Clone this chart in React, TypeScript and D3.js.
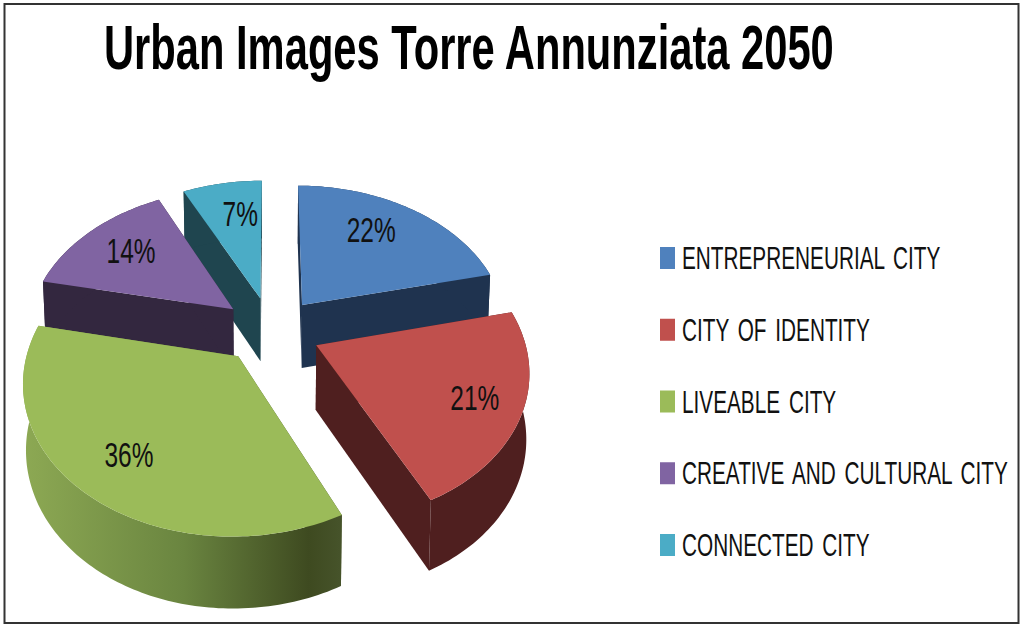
import React from "react"
import * as d3 from "d3"

const categories = ["ENTREPRENEURIAL CITY", "CITY OF IDENTITY", "LIVEABLE CITY", "CREATIVE AND CULTURAL CITY", "CONNECTED CITY"]
const shares = [22, 21, 36, 14, 7]
const topColors = ["#4f81bd", "#c0504d", "#9bbb59", "#8064a2", "#4bacc6"]
const sideColors = ["#1f334f", "#4f1f1f", "url(#greenSide)", "#33273f", "#1f454f"]
const title = "Urban Images Torre Annunziata 2050"

// label placement inside each slice: turn from the bisector (deg), fraction of radius
const labelTurn = [-5.5, 0, 0, 2, 3.5]
const labelReach = [0.72, 0.78, 0.74, 0.72, 0.71]

const width = 1024
const height = 628
const cx = 271
const cy = 330
const radius = 217
const xSquash = 0.95
const explode = 50
const depth = 64
const tilt = 0.665
const persp = 0.000694
const angleWarp = (2.5 * Math.PI) / 180

type Pt = [number, number]

// plane coords (u right, v away from the viewer) -> screen, h is how far below the top face
function project(u: number, v: number, h = 0): Pt {
  const w = 1 + persp * v
  const shrink = h > 0 ? 0.988 : 1
  return [cx + (u / w) * shrink, cy - (tilt * v) / w + h / Math.pow(w, 0.6)]
}

const line = d3.line<Pt>()
const drawOrder = [4, 3, 0, 1, 2]
const font = "'Liberation Sans Narrow','Liberation Sans',sans-serif"

export default function App() {
  const arcs = d3.pie<number>().sort(null)(shares)
  const slices = arcs.map((a, i) => {
    const mid = (a.startAngle + a.endAngle) / 2
    const ox = explode * Math.sin(mid)
    const oy = explode * Math.cos(mid)
    const at = (t: number, r: number, h = 0) => {
      const t2 = t - angleWarp * Math.abs(Math.sin(t))
      return project(ox + xSquash * r * Math.sin(t2), oy + r * Math.cos(t2), h)
    }
    const angles = d3.range(a.startAngle, a.endAngle, 0.02).concat(a.endAngle)
    const rim = angles.map((t) => at(t, radius))
    const rimLow = angles.map((t) => at(t, radius, depth))
    const apex = at(0, 0)
    const apexLow = at(0, 0, depth)
    return {
      i,
      top: line([apex, ...rim])! + "Z",
      startWall: line([apex, rim[0], rimLow[0], apexLow])! + "Z",
      endWall: line([apex, rim[rim.length - 1], rimLow[rimLow.length - 1], apexLow])! + "Z",
      outer: line([...rim, ...rimLow.slice().reverse()])! + "Z",
      label: at(mid + (labelTurn[i] * Math.PI) / 180, radius * labelReach[i]),
    }
  })

  const legendY = d3.scalePoint<string>().domain(categories).range([258, 545])

  return (
    <svg width={width} height={height} style={{ position: "absolute", left: 0, top: 0, background: "#fff" }}>
      <defs>
        <linearGradient id="greenSide" gradientUnits="userSpaceOnUse" x1={27} x2={340} y1={0} y2={0}>
          <stop offset="0" stopColor="#8ca853" />
          <stop offset="0.5" stopColor="#6a8540" />
          <stop offset="0.9" stopColor="#3e4a20" />
          <stop offset="1" stopColor="#46532a" />
        </linearGradient>
      </defs>
      <rect x={4.5} y={4} width={1014} height={619} fill="#fff" stroke="#333" strokeWidth={2} />

      <text
        transform="translate(104,69) scale(0.662,1)"
        fontFamily={font}
        fontWeight="bold"
        fontSize={63}
        fill="#000"
      >
        {title}
      </text>

      {drawOrder.map((k) => {
        const s = slices[k]
        return (
          <g key={k}>
            <path d={s.startWall} fill={sideColors[k]} />
            <path d={s.endWall} fill={sideColors[k]} />
            <path d={s.outer} fill={sideColors[k]} />
            <path d={s.top} fill={topColors[k]} />
          </g>
        )
      })}

      {slices.map((s) => (
        <text
          key={s.i}
          transform={`translate(${s.label[0]},${s.label[1] + 13}) scale(0.7,1)`}
          textAnchor="middle"
          fontFamily={font}
          fontSize={35}
          fill="#111"
        >
          {shares[s.i]}%
        </text>
      ))}

      {categories.map((c, i) => {
        const y = legendY(c)!
        return (
          <g key={c}>
            <rect x={660} y={y - 11} width={15} height={22} fill={topColors[i]} />
            <text
              transform={`translate(682,${y + 11}) scale(0.67,1)`}
              fontFamily={font}
              fontSize={31}
              wordSpacing={4.5}
              fill="#111"
            >
              {c}
            </text>
          </g>
        )
      })}
    </svg>
  )
}
